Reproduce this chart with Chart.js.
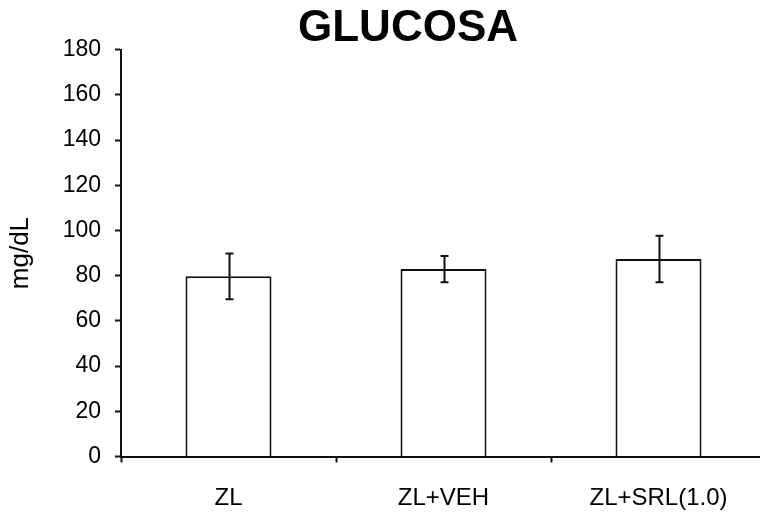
<!DOCTYPE html>
<html lang="es">
<head>
    <meta charset="UTF-8">
    <title>Glucosa</title>
    <script src="https://cdn.jsdelivr.net/npm/chart.js"></script>
    <style>
        body {
            margin: 0;
            background: #fff;
            overflow: hidden;
        }
        #glucosaChart {
            display: block;
        }
    </style>
</head>
<body>
    <canvas id="glucosaChart" width="816" height="515"></canvas>

    <script>
        // Grupos y valores medios de glucosa (mg/dL) con su error
        const groups = ["ZL", "ZL+VEH", "ZL+SRL(1.0)"];
        const meanValues = [79.7, 82.9, 87.4];
        const errorValues = [10.1, 5.8, 10.3];
        const yTicks = [0, 20, 40, 60, 80, 100, 120, 140, 160, 180];

        const baseFont = "'Liberation Sans', Arial, sans-serif";

        // Barras de error con remate horizontal
        const errorBars = {
            id: 'errorBars',
            afterDatasetsDraw(chart) {
                const { ctx, scales: { y } } = chart;
                const meta = chart.getDatasetMeta(0);
                ctx.save();
                ctx.strokeStyle = '#111';
                ctx.lineWidth = 2;
                meta.data.forEach((bar, i) => {
                    const top = y.getPixelForValue(meanValues[i] + errorValues[i]);
                    const bottom = y.getPixelForValue(meanValues[i] - errorValues[i]);
                    const x = Math.round(bar.x) + 0.5;
                    ctx.beginPath();
                    ctx.moveTo(x, top);
                    ctx.lineTo(x, bottom);
                    ctx.moveTo(x - 4, top);
                    ctx.lineTo(x + 4, top);
                    ctx.moveTo(x - 4, bottom);
                    ctx.lineTo(x + 4, bottom);
                    ctx.stroke();
                });
                ctx.restore();
            }
        };

        new Chart(document.getElementById('glucosaChart'), {
            type: 'bar',
            data: {
                labels: groups,
                datasets: [{
                    data: meanValues,
                    backgroundColor: '#fff',
                    borderColor: '#111',
                    borderWidth: 2,
                    categoryPercentage: 1,
                    barPercentage: 0.4
                }]
            },
            options: {
                responsive: false,
                devicePixelRatio: 1,
                animation: false,
                layout: {
                    padding: { left: 50, right: 50, top: 0, bottom: 3.5 }
                },
                plugins: {
                    legend: { display: false },
                    tooltip: { enabled: false },
                    title: {
                        display: true,
                        text: 'GLUCOSA',
                        color: '#000',
                        font: { family: baseFont, size: 44, weight: 'bold', lineHeight: 0.9 },
                        padding: { top: 9, bottom: 1 }
                    }
                },
                scales: {
                    x: {
                        afterFit(scale) { scale.height = 55; },
                        grid: {
                            display: true,
                            drawOnChartArea: false,
                            drawTicks: true,
                            tickLength: 6,
                            tickWidth: 2,
                            tickColor: '#111'
                        },
                        border: { display: true, color: '#111', width: 2 },
                        ticks: {
                            color: '#000',
                            padding: 21,
                            maxRotation: 0,
                            font: { family: baseFont, size: 24 }
                        }
                    },
                    y: {
                        min: 0,
                        max: 180,
                        afterFit(scale) { scale.width = 71; },
                        afterBuildTicks(scale) {
                            scale.ticks = yTicks.map(v => ({ value: v }));
                        },
                        grid: {
                            display: true,
                            drawOnChartArea: false,
                            drawTicks: true,
                            tickLength: 6,
                            tickWidth: 2,
                            tickColor: '#111'
                        },
                        border: { display: true, color: '#111', width: 2 },
                        ticks: {
                            color: '#000',
                            padding: 14,
                            font: { family: baseFont, size: 23 }
                        },
                        title: {
                            display: true,
                            text: 'mg/dL',
                            color: '#000',
                            font: { family: baseFont, size: 26 },
                            padding: { top: -44.6, bottom: 0 }
                        }
                    }
                }
            },
            plugins: [errorBars]
        });
    </script>
</body>
</html>
